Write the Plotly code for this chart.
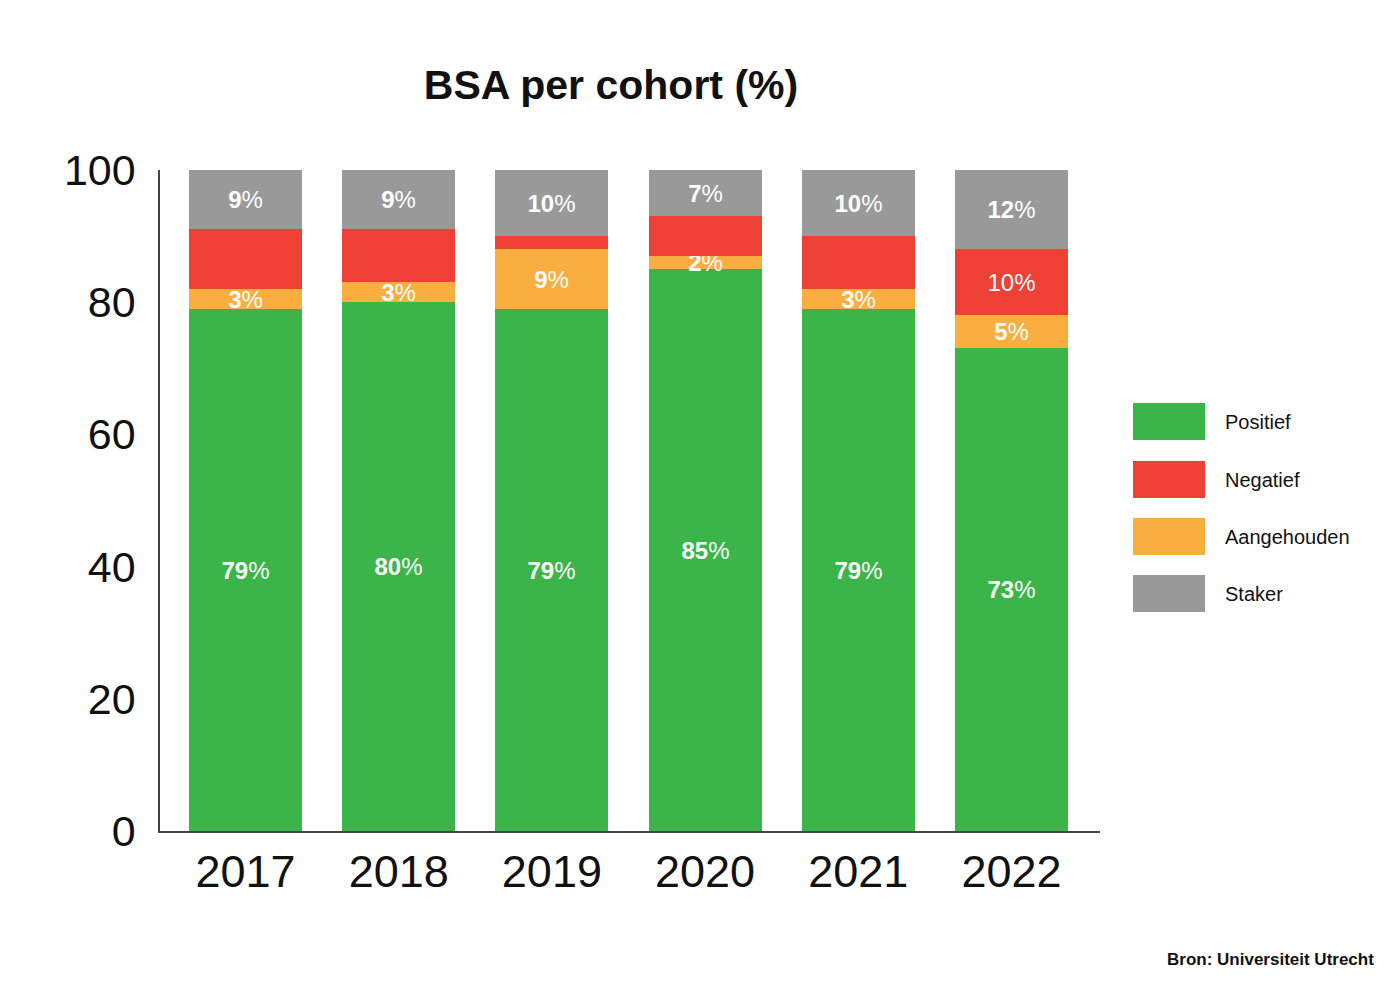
import plotly.graph_objects as go

# ---- data ----
years = ["2017", "2018", "2019", "2020", "2021", "2022"]
series_names = ["Positief", "Negatief", "Aangehouden", "Staker"]
positief = [79, 80, 79, 85, 79, 73]
aangehouden = [3, 3, 9, 2, 3, 5]
negatief = [9, 8, 2, 6, 8, 10]
staker = [9, 9, 10, 7, 10, 12]
negatief_labels = ["", "", "", "", "", "10%"]
y_ticks = [0, 20, 40, 60, 80, 100]
title_text = "BSA per cohort (%)"
source_text = "Bron: Universiteit Utrecht"

# ---- style ----
COL = {"Positief": "#3bb54a", "Negatief": "#ef4036",
       "Aangehouden": "#fbae40", "Staker": "#999999"}
FONT = "Liberation Sans, Arial, Helvetica, sans-serif"
W, H = 1400, 991
L, R, T, B = 160, 300, 170, 160
PW, PH = W - L - R, H - T - B


def bold_pct(vals):
    return [f"<b>{v}</b>%" for v in vals]


def px_x(px):
    return (px - L) / PW


def px_y(py):
    return (H - B - py) / PH


fig = go.Figure()
order = [("Positief", positief, bold_pct(positief)),
         ("Aangehouden", aangehouden, bold_pct(aangehouden)),
         ("Negatief", negatief, negatief_labels),
         ("Staker", staker, bold_pct(staker))]
for name, vals, txt in order:
    fig.add_trace(go.Bar(
        x=years, y=vals, name=name, marker=dict(color=COL[name], line=dict(width=0)),
        width=0.738, text=txt, textposition="inside", insidetextanchor="middle",
        textangle=0, constraintext="none",
        textfont=dict(family=FONT, size=24, color="white"),
        hoverinfo="x+y+name", showlegend=False,
    ))

# custom legend (large swatches)
box_tops = [403, 461, 518, 575]
for name, top in zip(series_names, box_tops):
    fig.add_shape(type="rect", xref="paper", yref="paper",
                  x0=px_x(1133), x1=px_x(1205), y0=px_y(top), y1=px_y(top + 37),
                  fillcolor=COL[name], line=dict(width=0))
    fig.add_annotation(xref="paper", yref="paper", x=px_x(1223), y=px_y(top + 18.5),
                       text=name, showarrow=False, xanchor="left", yanchor="middle",
                       font=dict(family=FONT, size=20, color="#111"))

fig.add_annotation(xref="paper", yref="paper", x=px_x(1376), y=px_y(960),
                   text=f"<b>{source_text}</b>", showarrow=False,
                   xanchor="right", yanchor="middle",
                   font=dict(family=FONT, size=17, color="#111"))

fig.update_layout(
    width=W, height=H,
    margin=dict(l=L, r=R, t=T, b=B, autoexpand=False),
    barmode="stack", bargap=0,
    plot_bgcolor="white", paper_bgcolor="white",
    title=dict(text=f"<b>{title_text}</b>", x=611 / W, xref="container", xanchor="center",
               y=1 - 85 / H, yref="container", yanchor="middle",
               font=dict(family=FONT, size=41, color="#111")),
    xaxis=dict(type="category", range=[-0.558, 5.578], showgrid=False, zeroline=False,
               showline=True, linecolor="#444", linewidth=1.5, ticks="",
               tickfont=dict(family=FONT, size=45, color="#111"), ticklabelstandoff=0),
    yaxis=dict(range=[0, 100], tickvals=y_ticks, showgrid=False, zeroline=False,
               showline=True, linecolor="#444", linewidth=1.5, ticks="",
               tickfont=dict(family=FONT, size=43, color="#111"), ticklabelstandoff=14),
    showlegend=False,
)

fig.write_html("out.html", config={"displayModeBar": False},
               post_script="document.body.style.margin='0px';")
